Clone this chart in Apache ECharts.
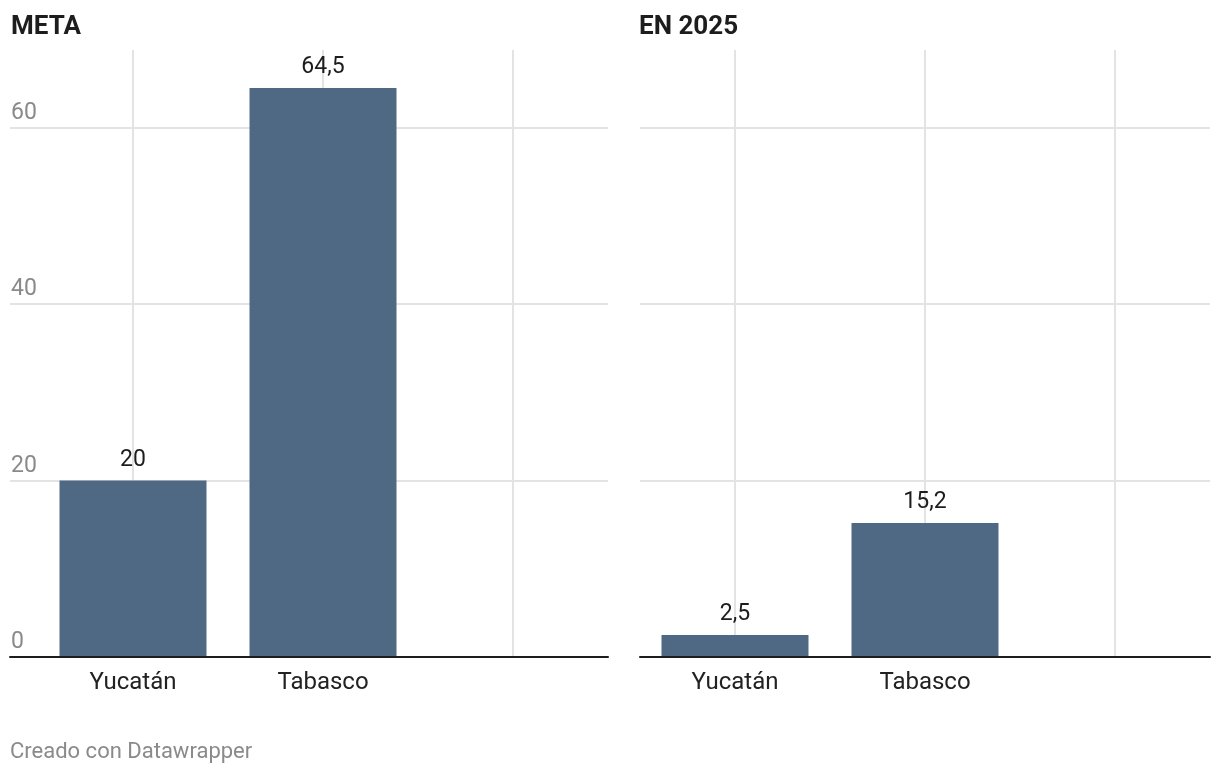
<!DOCTYPE html>
<html>
<head>
<meta charset="utf-8">
<script src="https://cdn.jsdelivr.net/npm/echarts@6/dist/echarts.min.js"></script>
<style>
html,body{margin:0;padding:0;background:#fff;}
#chart{width:1220px;height:774px;}
</style>
</head>
<body>
<div id="chart"></div>
<script>
// Data
const categories = ['Yucatán', 'Tabasco'];
const metaValues = [20, 64.5];
const en2025Values = [2.5, 15.2];
const panelTitles = ['META', 'EN 2025'];
const footerText = 'Creado con Datawrapper';
const yMin = 0, yMax = 68.8, yStep = 20;

const axisCats = categories.concat(['']);
const FONT = 'Roboto';
const BAR = '#4f6883';
const GRID = '#e3e3e3';
const TOP = 50, H = 607;

function fmt(v) { return String(v).replace('.', ','); }

const chart = echarts.init(document.getElementById('chart'), null, {renderer: 'canvas'});

function yAxisBase(gridIndex, showSplit, showLabel) {
  return {
    type: 'value', gridIndex, min: yMin, max: yMax, interval: yStep,
    axisLine: {show: false}, axisTick: {show: false},
    splitLine: {show: showSplit, showMaxLine: false, lineStyle: {color: GRID, width: 2}},
    axisLabel: {
      show: showLabel, inside: true, align: 'left', margin: 1,
      verticalAlign: 'bottom', padding: [0, 0, 3, 0],
      fontFamily: FONT, fontSize: 23, color: '#8a8a8a', showMaxLabel: false
    }
  };
}

function catAxis(gridIndex) {
  return {
    type: 'category', gridIndex, data: axisCats,
    axisLine: {show: false},
    axisTick: {show: true, alignWithLabel: true, inside: true, length: H, lineStyle: {color: GRID, width: 2}},
    axisLabel: {fontFamily: FONT, fontSize: 24, color: '#222', margin: 14},
    splitLine: {show: false}
  };
}

function baseLineAxis(gridIndex) {
  return {
    type: 'category', gridIndex, data: [''], z: 5,
    axisLine: {show: true, lineStyle: {color: '#1d1d1d', width: 2}},
    axisTick: {show: false}, axisLabel: {show: false}, splitLine: {show: false}
  };
}

function hiddenY(gridIndex) {
  return {type: 'value', gridIndex, min: yMin, max: yMax, show: false};
}

function barSeries(xi, yi, values) {
  return {
    type: 'bar', xAxisIndex: xi, yAxisIndex: yi, data: values,
    barWidth: 147, itemStyle: {color: BAR},
    label: {show: true, position: 'top', distance: 9, fontFamily: FONT, fontSize: 23, color: '#1d1d1d', formatter: p => fmt(p.value)},
    silent: true, animation: false
  };
}

const option = {
  animation: false,
  backgroundColor: '#fff',
  title: [
    {text: panelTitles[0], left: 11, top: 14, textStyle: {fontFamily: FONT, fontSize: 26, fontWeight: 'bold', color: '#1d1d1d'}, padding: 0},
    {text: panelTitles[1], left: 639, top: 14, textStyle: {fontFamily: FONT, fontSize: 26, fontWeight: 'bold', color: '#1d1d1d'}, padding: 0},
    {text: footerText, left: 10, top: 741, textStyle: {fontFamily: FONT, fontSize: 22, fontWeight: 'normal', color: '#8a8a8a'}, padding: 0}
  ],
  grid: [
    {left: 10, top: TOP, width: 598, height: H},
    {left: 38, top: TOP, width: 570, height: H},
    {left: 640, top: TOP, width: 570, height: H},
    {left: 640, top: TOP, width: 570, height: H}
  ],
  xAxis: [
    baseLineAxis(0),
    catAxis(1),
    catAxis(2),
    baseLineAxis(3)
  ],
  yAxis: [
    yAxisBase(0, true, true),
    hiddenY(1),
    yAxisBase(2, true, false),
    hiddenY(3)
  ],
  series: [
    barSeries(1, 1, metaValues),
    barSeries(2, 2, en2025Values)
  ]
};
chart.setOption(option);
</script>
</body>
</html>
